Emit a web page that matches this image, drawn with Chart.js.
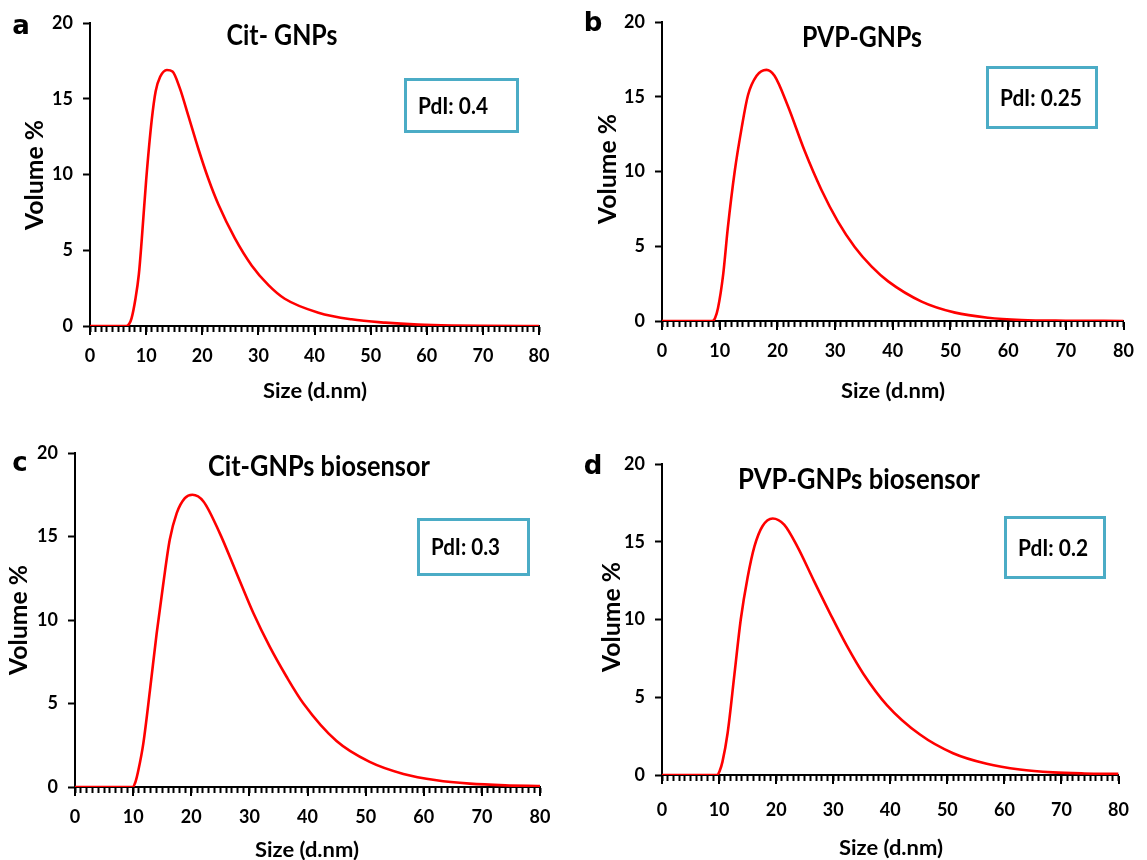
<!DOCTYPE html>
<html>
<head>
<meta charset="utf-8">
<script src="https://cdn.jsdelivr.net/npm/chart.js@4.4.1/dist/chart.umd.min.js"></script>
<style>
html,body{margin:0;padding:0;background:#fff;}
#wrap{position:relative;width:1147px;height:860px;overflow:hidden;background:#fff;}
canvas{position:absolute;}
.txt{position:absolute;white-space:nowrap;font-family:Lato,"Open Sans",sans-serif;font-weight:700;color:#000;line-height:1;}
.let{position:absolute;white-space:nowrap;font-family:"DejaVu Sans",sans-serif;font-weight:700;color:#000;line-height:1;transform:translate(-50%,-50%);}
.box{position:absolute;box-sizing:border-box;border:3px solid #4BACC6;display:flex;align-items:center;padding-left:11px;}
.box span{display:inline-block;white-space:nowrap;font-family:Lato,sans-serif;font-weight:700;color:#000;transform-origin:0 50%;line-height:1;}
</style>
</head>
<body>
<div id="wrap"></div>
<script>
// ---------------- DATA ----------------
const sizeA = [0, 6.5, 7.0, 7.4, 8.1, 8.7, 9.2, 10.0, 11.0, 11.7, 12.5, 13.7, 14.7, 16.0, 17.5, 19.3, 21.1, 22.9, 25.8, 28.8, 31.8, 34.7, 40.7, 46.6, 52.6, 58.5, 64.4, 70, 80];
const volA  = [0, 0, 0.15, 0.5, 1.8, 3.4, 5.6, 9.6, 13.6, 15.5, 16.45, 16.9, 16.8, 15.7, 13.9, 11.7, 9.7, 8.0, 5.8, 4.0, 2.7, 1.8, 0.88, 0.44, 0.22, 0.09, 0.03, 0.01, 0];

const sizeB = [0, 8.7, 9.2, 9.7, 10.6, 11.4, 12.6, 13.8, 14.9, 16.4, 18.1, 19.5, 21.8, 24.7, 27.6, 30.5, 33.4, 36.3, 39.2, 45.0, 50.8, 56.5, 62.3, 70, 80];
const volB  = [0, 0, 0.2, 0.85, 3.1, 6.2, 10.0, 12.9, 15.1, 16.4, 16.8, 16.4, 14.4, 11.4, 8.8, 6.65, 4.95, 3.65, 2.65, 1.3, 0.56, 0.22, 0.07, 0.02, 0];

const sizeC = [0, 9.9, 10.4, 10.9, 11.75, 12.9, 14.05, 15.2, 16.3, 17.5, 18.9, 20.2, 22.1, 24.9, 27.8, 30.7, 33.5, 36.4, 39.3, 45.0, 50.7, 56.5, 62.2, 67.9, 74, 80];
const volC  = [0, 0, 0.3, 1.0, 2.6, 5.8, 9.2, 12.2, 14.8, 16.4, 17.3, 17.5, 17.1, 15.2, 12.8, 10.4, 8.4, 6.6, 5.0, 2.75, 1.5, 0.78, 0.4, 0.2, 0.1, 0.06];

const sizeD = [0, 9.65, 10.1, 10.6, 11.5, 12.7, 13.8, 15.0, 16.2, 17.6, 19.4, 21.4, 23.7, 26.6, 29.5, 32.4, 35.3, 39.4, 45.2, 51.0, 56.9, 62.7, 68.5, 74, 80];
const volD  = [0, 0, 0.25, 0.86, 2.7, 6.5, 10.0, 12.7, 14.7, 16.0, 16.5, 16.1, 14.7, 12.5, 10.35, 8.3, 6.5, 4.5, 2.6, 1.4, 0.72, 0.35, 0.17, 0.1, 0.07];

const panelTitles  = ["Cit- GNPs", "PVP-GNPs", "Cit-GNPs biosensor", "PVP-GNPs biosensor"];
const pdiLabels    = ["PdI: 0.4", "PdI: 0.25", "PdI: 0.3", "PdI: 0.2"];
const panelLetters = ["a", "b", "c", "d"];
const xAxisTitle = "Size (d.nm)";
const yAxisTitle = "Volume %";
const xRange = [0, 80];
const yRange = [0, 20];
const xMajorStep = 10, xMinorStep = 1, yStep = 5;

// ---------------- LAYOUT ----------------
const panels = [
  {size:sizeA, vol:volA, canvas:[0,0,573,425],   area:[90,23,539,326],  title:[282,34,111],  letter:[21,24.5,26], xt:[315,389,104], yt:[34,175,110], box:[404,78,519,133],   pdiW:70, xPad:14},
  {size:sizeB, vol:volB, canvas:[573,0,574,425], area:[662,22,1124,321],title:[862,36,120],  letter:[593,22.4,26], xt:[893,389,104], yt:[607,169,110], box:[986,66,1098,129],  pdiW:82, xPad:14},
  {size:sizeC, vol:volC, canvas:[0,425,573,435], area:[75,453,540,787], title:[319,465,222], letter:[20,461.5,26], xt:[307,848,104], yt:[18,620,110], box:[417,518,530,576],  pdiW:69, xPad:14},
  {size:sizeD, vol:volD, canvas:[573,425,574,435],area:[662,464,1121,775],title:[859,478,242],letter:[593,465,26], xt:[891,846,104], yt:[611,617,110], box:[1004,516,1106,579],pdiW:70, xPad:19}
];

const wrap = document.getElementById('wrap');
const mctx = document.createElement('canvas').getContext('2d');
function measure(text, size){ mctx.font = `700 ${size}px Lato`; return mctx.measureText(text).width; }

function addText(text, cx, cy, size, targetW, rotate){
  const d = document.createElement('div');
  d.className = 'txt';
  d.textContent = text;
  d.style.fontSize = size + 'px';
  d.style.left = cx + 'px';
  d.style.top = cy + 'px';
  const s = targetW / measure(text, size);
  d.style.transform = `translate(-50%,-50%)${rotate ? ' rotate(-90deg)' : ''} scaleX(${s.toFixed(3)})`;
  wrap.appendChild(d);
}

const majorTicks = {
  id: 'majorTicks',
  afterDraw(chart){
    const xs = chart.scales.x, ctx = chart.ctx, y0 = chart.chartArea.bottom;
    ctx.save();
    ctx.strokeStyle = '#000';
    ctx.lineWidth = 2;
    for (let v = xRange[0]; v <= xRange[1]; v += xMajorStep){
      const px = Math.round(xs.getPixelForValue(v));
      ctx.beginPath(); ctx.moveTo(px, y0 + 1); ctx.lineTo(px, y0 + 9); ctx.stroke();
    }
    ctx.restore();
  }
};

panels.forEach((p, i) => {
  const [cl, ct, cw, ch] = p.canvas;
  const [al, at, ar, ab] = p.area;
  const cv = document.createElement('canvas');
  cv.width = cw; cv.height = ch;
  cv.style.left = cl + 'px'; cv.style.top = ct + 'px';
  cv.style.width = cw + 'px'; cv.style.height = ch + 'px';
  wrap.appendChild(cv);

  const yW = al - cl, xH = ct + ch - ab;
  const tickFont = {family: 'Lato', size: 18, weight: 'bold'};
  new Chart(cv.getContext('2d'), {
    type: 'line',
    data: {
      datasets: [{
        data: p.size.map((x, k) => ({x: x, y: p.vol[k]})),
        borderColor: '#FF0000',
        borderWidth: 2.6,
        pointRadius: 0,
        fill: false,
        cubicInterpolationMode: 'monotone'
      }]
    },
    options: {
      responsive: false,
      animation: false,
      devicePixelRatio: 1,
      layout: {padding: {left: 0, top: at - ct, right: cl + cw - ar, bottom: 0}},
      plugins: {legend: {display: false}, tooltip: {enabled: false}, title: {display: false}},
      scales: {
        x: {
          type: 'linear', min: xRange[0], max: xRange[1],
          afterFit: s => { s.height = xH; },
          border: {display: true, color: '#000', width: 2},
          grid: {drawOnChartArea: false, drawTicks: true, tickLength: 6, color: '#000', tickColor: '#000', tickWidth: 2},
          ticks: {
            stepSize: xMinorStep, autoSkip: false, maxRotation: 0, minRotation: 0,
            color: '#000', font: tickFont, padding: p.xPad - 1,
            callback: v => (Math.abs(v % xMajorStep) < 1e-6 ? String(Math.round(v)) : '')
          }
        },
        y: {
          type: 'linear', min: yRange[0], max: yRange[1],
          afterFit: s => { s.width = yW; },
          border: {display: true, color: '#000', width: 2},
          grid: {drawOnChartArea: false, drawTicks: true, tickLength: 7, color: '#000', tickColor: '#000', tickWidth: 2},
          ticks: {stepSize: yStep, color: '#000', font: tickFont, padding: 10}
        }
      }
    },
    plugins: [majorTicks]
  });

  // titles / labels
  addText(panelTitles[i], p.title[0], p.title[1], 28, p.title[2], false);
  addText(xAxisTitle, p.xt[0], p.xt[1], 21, p.xt[2], false);
  addText(yAxisTitle, p.yt[0], p.yt[1], 24, p.yt[2], true);

  const L = document.createElement('div');
  L.className = 'let';
  L.textContent = panelLetters[i];
  L.style.fontSize = p.letter[2] + 'px';
  L.style.left = p.letter[0] + 'px';
  L.style.top = p.letter[1] + 'px';
  wrap.appendChild(L);

  const [bl, bt, br, bb] = p.box;
  const B = document.createElement('div');
  B.className = 'box';
  B.style.left = bl + 'px'; B.style.top = bt + 'px';
  B.style.width = (br - bl) + 'px'; B.style.height = (bb - bt) + 'px';
  const sp = document.createElement('span');
  sp.textContent = pdiLabels[i];
  sp.style.fontSize = '22px';
  sp.style.transform = `scaleX(${(p.pdiW / measure(pdiLabels[i], 22)).toFixed(3)})`;
  B.appendChild(sp);
  wrap.appendChild(B);
});
</script>
</body>
</html>
